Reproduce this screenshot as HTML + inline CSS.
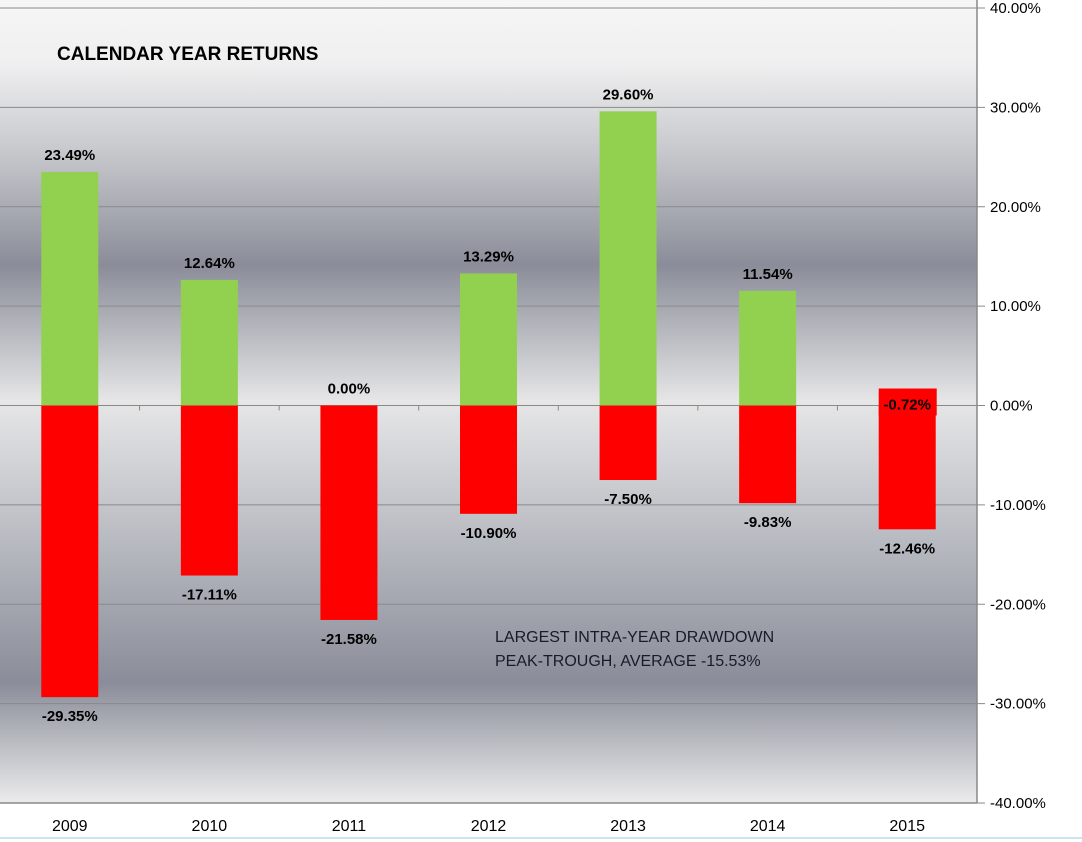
<!DOCTYPE html>
<html><head><meta charset="utf-8"><style>
html,body{margin:0;padding:0;background:#fff;}
svg{display:block;font-family:"Liberation Sans",Calibri,sans-serif;}
</style></head><body>
<svg width="1082" height="842" viewBox="0 0 1082 842">
<defs>
<linearGradient id="bg" x1="0" y1="0" x2="0" y2="803" gradientUnits="userSpaceOnUse">
<stop offset="0" stop-color="#f6f6f6"/>
<stop offset="0.08" stop-color="#efeff0"/>
<stop offset="0.2" stop-color="#c3c4c9"/>
<stop offset="0.33" stop-color="#8a8d99"/>
<stop offset="0.5" stop-color="#e6e6e7"/>
<stop offset="0.62" stop-color="#c6c8cd"/>
<stop offset="0.85" stop-color="#8a8d99"/>
<stop offset="1" stop-color="#ebebec"/>
</linearGradient>
</defs>
<rect x="0" y="0" width="977" height="803" fill="url(#bg)"/>
<g id="grid"></g>
<g id="bars"></g>
<g id="labels"></g>
<line x1="977" y1="0" x2="977" y2="803" stroke="#888" stroke-width="1.5"/>
<line x1="0" y1="803" x2="977" y2="803" stroke="#888" stroke-width="1.5"/>
<line x1="0" y1="838" x2="1082" y2="838" stroke="#cfe3ea" stroke-width="2"/>
<text x="57" y="60" font-size="19" font-weight="bold" fill="#000">CALENDAR YEAR RETURNS</text>
<text x="495" y="642" font-size="16" fill="#1a1a2a">LARGEST INTRA-YEAR DRAWDOWN</text>
<text x="495" y="666" font-size="16" fill="#1a1a2a">PEAK-TROUGH, AVERAGE -15.53%</text>
</svg>
<script>
const years=["2009","2010","2011","2012","2013","2014","2015"];
const returns=[23.49,12.64,0.00,13.29,29.60,11.54,-0.72];
const drawdowns=[-29.35,-17.11,-21.58,-10.90,-7.50,-9.83,-12.46];
const yTicks=[40,30,20,10,0,-10,-20,-30,-40];
const NS="http://www.w3.org/2000/svg";
const plotL=0,plotR=977,yTop=8,yBot=803,yMax=40,yMin=-40;
const y=v=>yTop+(yMax-v)/(yMax-yMin)*(yBot-yTop);
const band=(plotR-plotL)/years.length;
const xc=i=>plotL+band*(i+0.5);
const bw=57;
function mk(tag,attrs,parent){const e=document.createElementNS(NS,tag);for(const k in attrs)e.setAttribute(k,attrs[k]);document.getElementById(parent).appendChild(e);return e;}
const fmt=v=>v.toFixed(2)+"%";
yTicks.forEach(t=>{
  const l=mk('line',{x1:0,x2:985,y1:y(t),y2:y(t),stroke:'#8a8a8a','stroke-width':1},'grid');
  
  
  const tx=mk('text',{x:990,y:y(t)+5,'font-size':15,fill:'#000'},'grid');
  tx.textContent=fmt(t);
  
  
});
for(let i=1;i<years.length;i++){
  const tk=mk('line',{x1:plotL+band*i,x2:plotL+band*i,y1:y(0),y2:y(0)+5,stroke:'#888'},'grid');
  
  
}
years.forEach((yr,i)=>{
  const cx=xc(i),r=returns[i],d=drawdowns[i];
  if(r>0){
    const g=mk('rect',{x:cx-bw/2,y:y(r),width:bw,height:y(0)-y(r),fill:'#92d050'},'bars');
    
    
  }
  const rb=mk('rect',{x:cx-bw/2,y:y(0),width:bw,height:y(d)-y(0),fill:'#ff0000'},'bars');
  
  
  if(r<0){
    const lb=mk('rect',{x:cx-bw/2,y:y(0)-17,width:bw+1,height:27,fill:'#ff0000'},'bars');
    
    
    const t=mk('text',{x:cx,y:y(0)+4,'font-size':15,'font-weight':'bold','text-anchor':'middle'},'labels');
    t.textContent=fmt(r);
    
    
  } else {
    const t=mk('text',{x:cx,y:y(r)-12,'font-size':15,'font-weight':'bold','text-anchor':'middle'},'labels');
    t.textContent=fmt(r);
    
    
  }
  const dt=mk('text',{x:cx,y:y(d)+24,'font-size':15,'font-weight':'bold','text-anchor':'middle'},'labels');
  dt.textContent=fmt(d);
  
  
  const xl=mk('text',{x:cx,y:831,'font-size':16,'text-anchor':'middle'},'labels');
  xl.textContent=yr;
  
  
});
</script>
</body></html>
